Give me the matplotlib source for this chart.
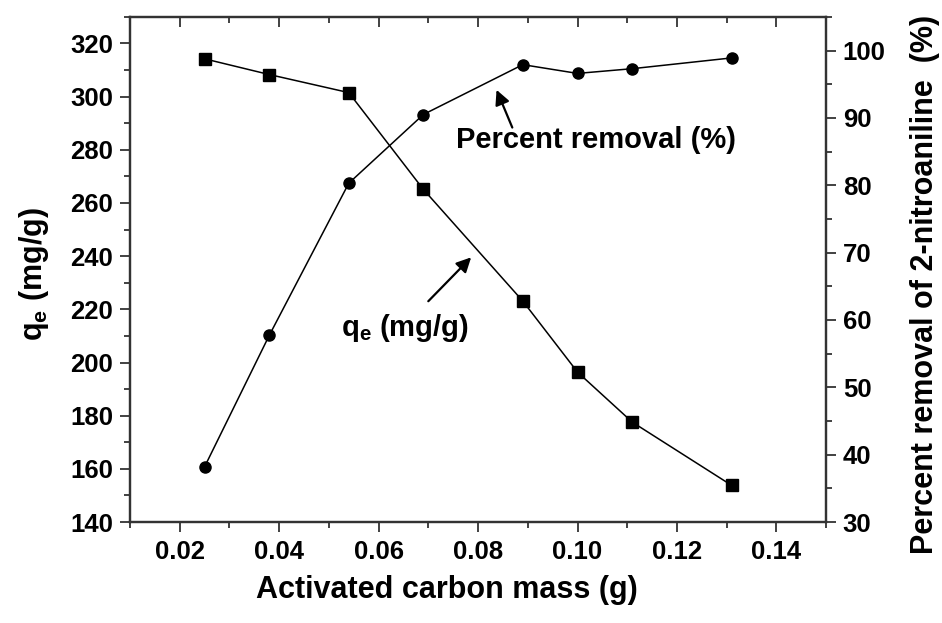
import matplotlib
matplotlib.use("Agg")
import matplotlib.pyplot as plt
from matplotlib.ticker import MultipleLocator

# Activated carbon mass (g)
mass = [0.025, 0.038, 0.054, 0.069, 0.089, 0.100, 0.111, 0.131]
# Adsorption capacity qe (mg/g) -> left axis
qe = [314.2, 308.3, 301.5, 265.1, 223.1, 196.4, 177.6, 153.8]
# Percent removal of 2-nitroaniline (%) -> right axis
removal = [38.2, 57.7, 80.3, 90.5, 97.9, 96.6, 97.3, 98.9]

x_ticks = [0.02, 0.04, 0.06, 0.08, 0.10, 0.12, 0.14]
x_tick_labels = ["0.02", "0.04", "0.06", "0.08", "0.10", "0.12", "0.14"]

plt.rcParams.update({
    "font.family": ["Liberation Sans", "DejaVu Sans"],
    "font.weight": "bold",
    "mathtext.fontset": "custom",
    "mathtext.bf": "Liberation Sans:bold",
    "mathtext.rm": "Liberation Sans:bold",
    "mathtext.default": "bf",
})

SPINE = "#333333"

fig = plt.figure(figsize=(9.42, 6.23), dpi=100)
ax = fig.add_axes([0.138, 0.162, 0.739, 0.811])
ax2 = ax.twinx()

ax.plot(mass, qe, color="black", lw=1.1, marker="s", ms=8, zorder=3)
ax2.plot(mass, removal, color="black", lw=1.1, marker="o", ms=8, zorder=3)

ax.set_xlim(0.01, 0.15)
ax.set_ylim(140, 330)
ax2.set_ylim(30, 105)

ax.set_xticks(x_ticks)
ax.set_xticklabels(x_tick_labels)
ax.xaxis.set_minor_locator(MultipleLocator(0.01))
ax.yaxis.set_minor_locator(MultipleLocator(10))
ax2.yaxis.set_minor_locator(MultipleLocator(5))
ax.set_yticks(range(140, 321, 20))
ax2.set_yticks(range(30, 101, 10))

ax.tick_params(axis="x", which="both", direction="out", top=True, labelsize=18.5,
               pad=6, color=SPINE, width=1.3)
ax.tick_params(axis="y", which="both", direction="out", right=False, labelsize=18.5,
               pad=5, color=SPINE, width=1.3)
ax2.tick_params(axis="y", which="both", direction="out", labelsize=18.5,
                pad=5, color=SPINE, width=1.3)
for a in (ax, ax2):
    a.tick_params(which="major", length=7)
    a.tick_params(which="minor", length=4)
    for s in a.spines.values():
        s.set_linewidth(1.6)
        s.set_color(SPINE)

# top ticks point inwards, bottom ticks outwards
for t in ax.xaxis.get_major_ticks() + ax.xaxis.get_minor_ticks():
    t.tick2line.set_marker(3)

ax.set_xlabel("Activated carbon mass (g)", fontsize=22, fontweight="bold")
ax.xaxis.set_label_coords(0.455, -0.105)
ax.set_ylabel("q$_{e}$ (mg/g)", fontsize=22, fontweight="bold")
ax.yaxis.set_label_coords(-0.113, 0.49)
ax2.set_ylabel("Percent removal of 2-nitroaniline  (%)", fontsize=22,
               fontweight="bold", rotation=90)
ax2.yaxis.set_label_coords(1.12, 0.47)

# annotations
ax.annotate("", xy=(0.0835, 303.5), xytext=(0.0871, 287.4),
            arrowprops=dict(arrowstyle="-|>", color="black", lw=1.6, mutation_scale=22))
ax.text(0.1037, 283.6, "Percent removal (%)", fontsize=21, fontweight="bold",
        ha="center", va="center")
ax.annotate("", xy=(0.0790, 240.3), xytext=(0.0696, 222.3),
            arrowprops=dict(arrowstyle="-|>", color="black", lw=1.6, mutation_scale=22))
ax.text(0.0652, 212.9, "q$_{e}$ (mg/g)", fontsize=21, fontweight="bold",
        ha="center", va="center")

fig.savefig("out.png", dpi=100)
